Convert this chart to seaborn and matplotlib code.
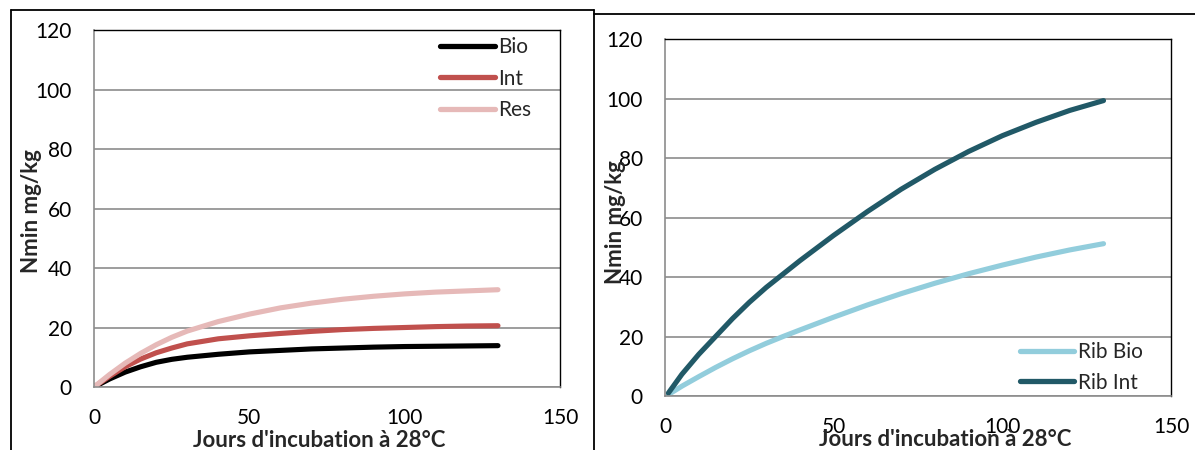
import pandas as pd
import seaborn as sns
from matplotlib import pyplot as plt
from matplotlib.lines import Line2D

# left panel: days of incubation and Nmin (mg/kg)
days = [0, 5, 10, 15, 20, 25, 30, 40, 50, 60, 70, 80, 90, 100, 110, 120, 130]
bio = [0, 2.7, 5, 6.8, 8.3, 9.3, 10, 11, 11.8, 12.3, 12.8, 13.1, 13.4, 13.6, 13.7, 13.8, 13.9]
int_ = [0, 3.6, 6.8, 9.4, 11.5, 13.1, 14.5, 16.2, 17.2, 18, 18.7, 19.3, 19.7, 20, 20.3, 20.5, 20.6]
res = [0, 4.2, 8, 11.3, 14.2, 16.7, 18.8, 22, 24.5, 26.6, 28.2, 29.5, 30.5, 31.3, 31.9, 32.3, 32.7]

# right panel
days_rib = [1, 5, 10, 15, 20, 25, 30, 35, 40, 50, 60, 70, 80, 90, 100, 110, 120, 130]
rib_bio = [0.5, 3.3, 6.5, 9.6, 12.5, 15.2, 17.7, 20, 22.2, 26.5, 30.6, 34.4, 37.9, 41.1, 44, 46.7, 49.1, 51.2]
rib_int = [1, 7.3, 14, 20, 26, 31.5, 36.5, 41, 45.5, 54, 62, 69.5, 76.2, 82.2, 87.5, 92, 96, 99.3]

x_ticks = [0, 50, 100, 150]
y_ticks = [0, 20, 40, 60, 80, 100, 120]

sns.set_style("white")
plt.rcParams['font.family'] = ['Lato', 'DejaVu Sans']

df_left = pd.DataFrame({"jour": days * 3,
                        "Nmin": bio + int_ + res,
                        "serie": ["Bio"] * len(days) + ["Int"] * len(days) + ["Res"] * len(days)})
df_right = pd.DataFrame({"jour": days_rib * 2,
                         "Nmin": rib_bio + rib_int,
                         "serie": ["Rib Bio"] * len(days_rib) + ["Rib Int"] * len(days_rib)})

fig = plt.figure(figsize=(11.95, 4.5), dpi=100)
ax1 = fig.add_axes([0.0787, 0.1400, 0.3900, 0.7933])
ax2 = fig.add_axes([0.5565, 0.1200, 0.4234, 0.7933])

line_kw = dict(linewidth=3.7, solid_joinstyle="round", solid_capstyle="round")
sns.lineplot(data=df_left, x="jour", y="Nmin", hue="serie", ax=ax1,
             palette={"Bio": "black", "Int": "#C0504D", "Res": "#E6B9B8"}, **line_kw)
sns.lineplot(data=df_right, x="jour", y="Nmin", hue="serie", ax=ax2,
             palette={"Rib Bio": "#92CDDC", "Rib Int": "#215967"}, **line_kw)

for ax in (ax1, ax2):
    ax.set_xlim(0, 150)
    ax.set_ylim(0, 120)
    ax.set_xticks(x_ticks)
    ax.set_yticks(y_ticks)
    ax.yaxis.grid(True, color="#8c8c8c", linewidth=1.2)
    ax.set_axisbelow(True)
    ax.tick_params(axis="both", labelsize=15, colors="#8c8c8c", labelcolor="black",
                   direction="out", length=5, width=1.2)
    ax.tick_params(axis="y", pad=11)
    ax.tick_params(axis="x", pad=10)
    for side in ("left", "bottom"):
        ax.spines[side].set_color("#8c8c8c")
        ax.spines[side].set_linewidth(1.2)
    for side in ("top", "right"):
        ax.spines[side].set_color("black")
        ax.spines[side].set_linewidth(1.0)
    ax.set_xlabel("Jours d'incubation à 28°C", fontsize=16, fontweight="bold")
    ax.set_ylabel("Nmin mg/kg", fontsize=16, fontweight="bold")
    for ln in ax.get_lines():
        ln.set_solid_capstyle("round")

ax1.xaxis.set_label_coords(0.484, -0.12)
ax1.yaxis.set_label_coords(-0.112, 0.493)
ax2.xaxis.set_label_coords(0.553, -0.092)
ax2.yaxis.set_label_coords(-0.078, 0.487)

leg_kw = dict(frameon=False, fontsize=15, handlelength=2.6, handletextpad=0.15, borderaxespad=0.0)
leg1 = ax1.legend(loc="upper right", labelspacing=0.55, bbox_to_anchor=(0.955, 1.003), **leg_kw)
leg2 = ax2.legend(loc="lower right", labelspacing=0.5, bbox_to_anchor=(0.96, -0.014), **leg_kw)
for leg in (leg1, leg2):
    for h in leg.get_lines():
        h.set_linewidth(3.8)
        h.set_solid_capstyle("round")

# chart frames
W, H = 1195, 450
def px(x, y):
    return x / W, 1 - y / H
for (xa, ya), (xb, yb) in [((11, 10), (594, 10)), ((11, 10), (11, 460)), ((594, 10), (594, 460)),
                           ((594, 14), (1195, 14))]:
    (x0, y0), (x1, y1) = px(xa, ya), px(xb, yb)
    fig.add_artist(Line2D([x0, x1], [y0, y1], color="black", linewidth=1.3))

fig.savefig("out.png", dpi=100)
